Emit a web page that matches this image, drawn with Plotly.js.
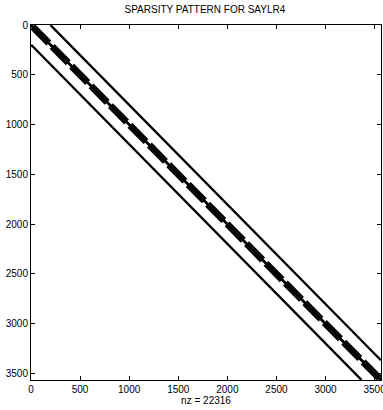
<!DOCTYPE html>
<html>
<head>
<meta charset="utf-8">
<script src="https://cdn.plot.ly/plotly-3.0.1.min.js"></script>
<style>
html,body{margin:0;padding:0;background:#fff;}
#chart{width:383px;height:410px;}
</style>
</head>
<body>
<div id="chart"></div>
<script>
// SAYLR4 matrix structure (3564 x 3564)
const matrixSize = 3564;
const nzCount = 22316;
// nonzero diagonals (column - row) and the block length inside which each diagonal is present
const diagOffsets = [-198, -33, -1, 0, 1, 33, 198];
const diagBlockLen = [3564, 198, 33, 3564, 33, 198, 3564];
const xTicks = [0, 500, 1000, 1500, 2000, 2500, 3000, 3500];
const yTicks = [0, 500, 1000, 1500, 2000, 2500, 3000, 3500];
const chartTitle = "SPARSITY PATTERN FOR SAYLR4";

const traces = [];
diagOffsets.forEach((d, k) => {
  const B = diagBlockLen[k];
  const xs = [], ys = [];
  const nBlocks = Math.ceil(matrixSize / B);
  for (let b = 0; b < nBlocks; b++) {
    const lo = b * B + 1, hi = Math.min((b + 1) * B, matrixSize);
    const r0 = Math.max(lo, lo - d), r1 = Math.min(hi, hi - d);
    if (r1 < r0) continue;
    xs.push(r0 + d, r1 + d, null);
    ys.push(r0, r1, null);
  }
  traces.push({
    type: 'scatter', mode: 'lines', x: xs, y: ys,
    line: {color: '#000', width: 2.3},
    hoverinfo: 'skip', showlegend: false, cliponaxis: true
  });
});

const font = {family: 'Liberation Sans, Arial, sans-serif', size: 10, color: '#000'};
const axisCommon = {
  showgrid: false, zeroline: false,
  showline: true, linecolor: '#000', linewidth: 1, mirror: 'ticks',
  ticks: 'inside', ticklen: 4, tickwidth: 1, tickcolor: '#000',
  tickfont: font, ticklabeloverflow: 'allow'
};
const layout = {
  width: 383, height: 410,
  margin: {l: 31, r: 2, t: 25, b: 30},
  paper_bgcolor: '#fff', plot_bgcolor: '#fff',
  font: font,
  title: {text: chartTitle, font: {family: font.family, size: 10, color: '#000'}, x: 0.535, xanchor: 'center', y: 0.985, yanchor: 'top'},
  xaxis: Object.assign({}, axisCommon, {
    range: [0, matrixSize + 1], tickvals: xTicks, ticktext: xTicks.map(String),
    title: {text: 'nz = ' + nzCount, font: font, standoff: 2}
  }),
  yaxis: Object.assign({}, axisCommon, {
    range: [matrixSize + 1, 0], tickvals: yTicks, ticktext: yTicks.map(String)
  }),
  showlegend: false
};
Plotly.newPlot('chart', traces, layout, {displayModeBar: false, staticPlot: true});
</script>
</body>
</html>
